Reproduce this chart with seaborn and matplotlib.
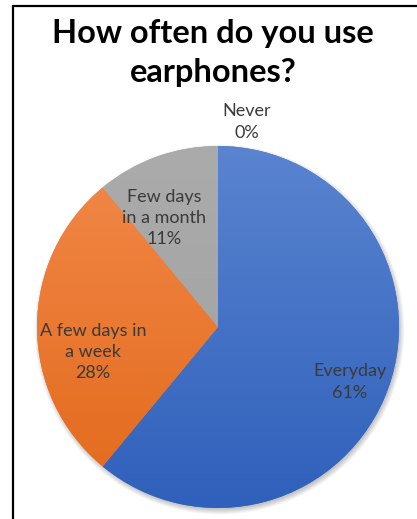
import numpy as np
import matplotlib
matplotlib.use("Agg")
import matplotlib.pyplot as plt
from matplotlib.patches import Circle
import seaborn as sns

# Survey answers
categories = ["Everyday", "A few days in\na week", "Few days\nin a month", "Never"]
shares = [61, 28, 11, 0]
title = "How often do you use\nearphones?"

sns.set_theme(style="white")
plt.rcParams["font.family"] = ["Lato", "DejaVu Sans"]

# Office-style fills: lighter at the top, deeper at the bottom
top_colors = ["#5a84d0", "#f2894a", "#ababab"]
bottom_colors = ["#2f60bb", "#e2691a", "#a0a0a0"]
base_colors = ["#4472c4", "#ed7d31", "#a5a5a5", "#ffc000"]

W, H = 417, 519
fig = plt.figure(figsize=(W / 100, H / 100), dpi=100)
ax = fig.add_axes([0, 0, 1, 1])

# chart frame (open to the right and bottom edge)
ax.plot([13.5, 13.5, W + 5], [-5, H - 5.5, H - 5.5], color="black", lw=1.6,
        solid_joinstyle="miter", zorder=1)

cx, cy, r = 218, 192, 181

# soft drop shadow below the pie
for k in range(10):
    ax.add_patch(Circle((cx + 1.5, cy - 2.5), r + 4 - k * 0.6, color="black",
                        alpha=0.025, lw=0, zorder=1))

wedges, _ = ax.pie(shares, colors=base_colors, startangle=90, counterclock=False,
                   center=(cx, cy), radius=r, frame=True,
                   wedgeprops=dict(linewidth=0))

# vertical gradient clipped to each wedge
def hex2rgb(h):
    return np.array([int(h[i:i + 2], 16) for i in (1, 3, 5)]) / 255.0

t = np.linspace(0, 1, 256)[:, None]
for w, c0, c1 in zip(wedges[:3], top_colors, bottom_colors):
    a, b = hex2rgb(c0), hex2rgb(c1)
    grad = (a[None, :] * (1 - t) + b[None, :] * t)[:, None, :]
    grad = np.repeat(grad, 2, axis=1)
    im = ax.imshow(grad, extent=(cx - r, cx + r, cy - r, cy + r), origin="upper",
                   aspect="auto", zorder=3, interpolation="bilinear")
    im.set_clip_path(w)

ax.set_xlim(0, W)
ax.set_ylim(0, H)
ax.set_aspect("equal")
ax.axis("off")

label_color = "#3a3a3a"
fs = 13
ls = 1.42
pct = [f"{s}%" for s in shares]

# data labels
ax.text(350, H - 382, f"{categories[0]}\n{pct[0]}", ha="center", va="center",
        fontsize=fs, color=label_color, linespacing=ls, zorder=5)
ax.text(93, H - 352, f"{categories[1]}\n{pct[1]}", ha="center", va="center",
        fontsize=fs, color=label_color, linespacing=ls, zorder=5)
ax.text(164, H - 218, f"{categories[2]}\n{pct[2]}", ha="center", va="center",
        fontsize=fs, color=label_color, linespacing=ls, zorder=5)
ax.text(247, H - 122, f"{categories[3]}\n{pct[3]}", ha="center", va="center",
        fontsize=fs, color=label_color, linespacing=ls, zorder=5)

ax.text(213, H - 53, title, ha="center", va="center", fontsize=23.5,
        fontweight="bold", color="black", linespacing=1.42, zorder=5)

fig.savefig("out.png", dpi=100, facecolor="white")
